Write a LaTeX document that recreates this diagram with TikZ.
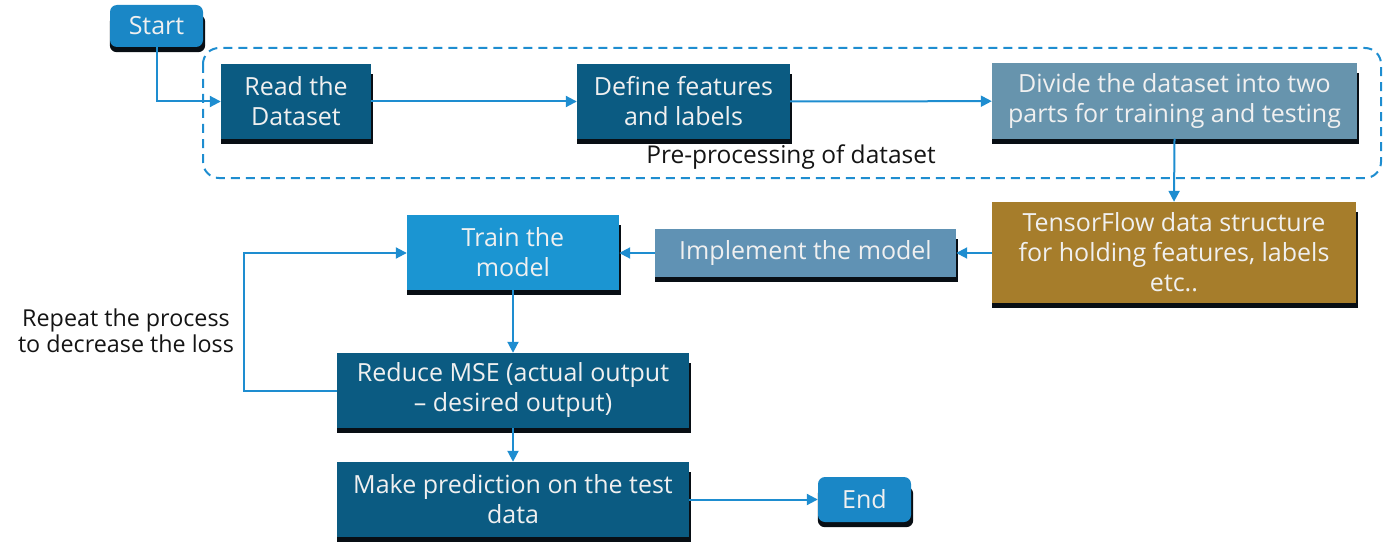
\documentclass[tikz,border=0pt]{standalone}
\usepackage{fontspec}
\setmainfont{Open Sans}
\usetikzlibrary{arrows.meta,backgrounds}
\definecolor{dk}{RGB}{11,91,130}
\definecolor{se}{RGB}{26,135,198}
\definecolor{tr}{RGB}{27,149,210}
\definecolor{dv}{RGB}{103,148,173}
\definecolor{im}{RGB}{96,146,180}
\definecolor{tf}{RGB}{166,125,43}
\definecolor{ar}{RGB}{30,141,208}
\definecolor{tx}{RGB}{240,240,240}
\definecolor{lb}{RGB}{20,20,20}
\definecolor{sh}{RGB}{8,14,20}
\tikzset{
  box/.style={draw=none, text=tx, align=center, inner sep=0pt,
    font=\fontsize{25}{30}\selectfont},
  conn/.style={draw=ar, line width=2pt, -{Triangle[length=11pt,width=11pt]}},
  lbl/.style={text=lb, align=center, font=\fontsize{24.5}{27}\selectfont},
  replbl/.style={text=lb, align=center, font=\fontsize{23.3}{26.5}\selectfont}
}
\begin{document}
\begin{tikzpicture}[x=1pt,y=-1pt]
\useasboundingbox (0,0) rectangle (1383,559);
\draw[ar, line width=2pt, dash pattern=on 9pt off 6pt, rounded corners=16pt] (203,48) rectangle (1381,178);
\node[box, fill=se, rounded corners=7pt, minimum width=93pt, minimum height=42pt] (start) at (156.5,26) {Start};
\node[box, fill=dk, minimum width=150pt, minimum height=75pt] (read) at (296,101.5) {Read the\\Dataset};
\node[box, fill=dk, minimum width=213pt, minimum height=75pt] (define) at (683.5,101.5) {Define features\\and labels};
\node[box, fill=dv, minimum width=365pt, minimum height=75pt] (divide) at (1174.5,101) {Divide the dataset into two\\parts for training and testing};
\node[lbl] (pre) at (791,157) {Pre-processing of dataset};
\node[box, fill=tf, minimum width=364pt, minimum height=101pt] (tfd) at (1174,252.5) {TensorFlow data structure\\for holding features, labels\\etc..};
\node[box, fill=im, minimum width=301pt, minimum height=48pt] (impl) at (805.5,253) {Implement the model};
\node[box, fill=tr, minimum width=212pt, minimum height=75pt] (train) at (513,252.5) {Train the\\model};
\node[box, fill=dk, minimum width=352pt, minimum height=75pt] (reduce) at (513,390.5) {Reduce MSE (actual output\\– desired output)};
\node[box, fill=dk, minimum width=352pt, minimum height=75pt] (make) at (513,499.5) {Make prediction on the test\\data};
\node[box, fill=se, rounded corners=7pt, minimum width=93pt, minimum height=45pt] (end) at (864.5,499.5) {End};
\node[replbl] (rep) at (126,331) {Repeat the process\\to decrease the loss};
\begin{scope}[on background layer]
\foreach \n in {read,define,divide,tfd,impl,train,reduce,make}
  \fill[sh] ([xshift=0pt,yshift=-5pt]\n.south west) rectangle ([xshift=2pt,yshift=-10pt]\n.north east);
\foreach \n in {start,end}
  \fill[sh, rounded corners=7pt] ([xshift=0pt,yshift=-5pt]\n.south west) rectangle ([xshift=2pt,yshift=-10pt]\n.north east);
\end{scope}
\coordinate (c1) at (157,101.5);
\coordinate (c2) at (244,390.5);
\coordinate (c3) at (244,253);
\draw[conn] (start.south -| c1) -- (c1) -- (read.west);
\draw[conn] (read) -- (define);
\draw[conn] (define) -- (divide);
\draw[conn] (divide.south) -- (tfd.north);
\draw[conn] (tfd.west |- impl) -- (impl.east);
\draw[conn] (impl.west) -- (train.east |- impl);
\draw[conn] (train) -- (reduce);
\draw[conn] (reduce.west) -- (c2) -- (c3) -- (train.west |- c3);
\draw[conn] (reduce) -- (make);
\draw[conn] (make) -- (end);
\end{tikzpicture}
\end{document}
